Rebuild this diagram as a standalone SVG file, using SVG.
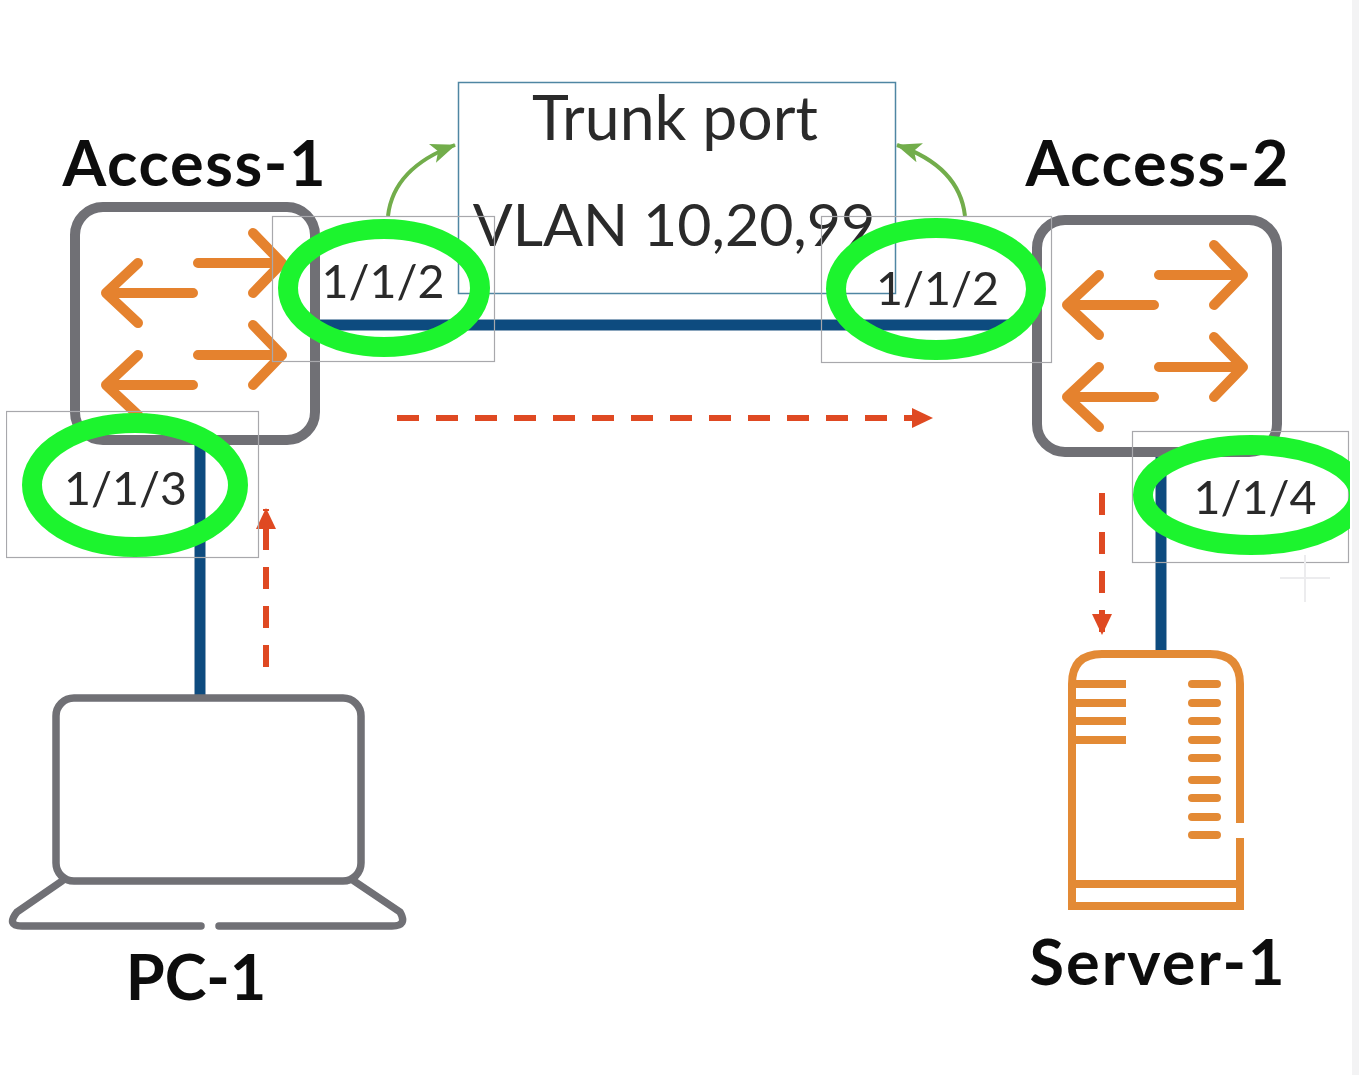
<svg xmlns="http://www.w3.org/2000/svg" width="1359" height="1075" viewBox="0 0 1359 1075">
<defs>
<style>
text{font-family:"Lato","Open Sans","Liberation Sans",sans-serif;text-anchor:middle}
.name{font-size:63px;font-weight:700;fill:#0a0a0a}
.trunk{fill:#2b2b2b}
.port{font-size:46.500px;fill:#2b2b2b}
.sw{fill:none;stroke:#6f6f75;stroke-width:10}
.or{fill:none;stroke:#e5822e;stroke-width:10;stroke-linecap:round;stroke-linejoin:round}
.thin{fill:none;stroke:#a8a8ac;stroke-width:1.2}
.link{fill:none;stroke:#0f4c7f;stroke-width:11}
.ring{fill:none;stroke:#1ff42f;stroke-width:20}
.dash{fill:none;stroke:#df4a20;stroke-width:6;stroke-dasharray:22 17}
.grn{fill:none;stroke:#72ad4c;stroke-width:4}
.srv{fill:none;stroke:#e38a36;stroke-width:8}
.lap{fill:none;stroke:#6f6f75;stroke-width:7.500;stroke-linecap:round;stroke-linejoin:round}
</style>
<filter id="soft" x="0" y="0" width="100%" height="100%"><feGaussianBlur stdDeviation="0.7"/></filter>
<clipPath id="edge"><rect width="1350" height="1075"/></clipPath>
<marker id="mr" markerUnits="userSpaceOnUse" markerWidth="22" markerHeight="24" refX="20" refY="12" orient="auto"><path d="M0 2L21 12L0 22Z" fill="#df4a20"/></marker>
<marker id="mg" markerUnits="userSpaceOnUse" markerWidth="26" markerHeight="24" refX="24" refY="12" orient="auto"><path d="M0 2L25 12L0 22L6 12Z" fill="#72ad4c"/></marker>
<g id="swArrows">
<path class="or" d="M193 0H108M138 -30L106 0L138 30"/>
<path class="or" d="M198 -30H280M253 -60L282 -30L253 0"/>
</g>
</defs>
<rect width="1359" height="1075" fill="#ffffff"/>
<rect x="1352" width="7" height="1075" fill="#f3f3f4"/>
<g filter="url(#soft)">
<g id="connectors">
<path class="link" d="M320 325H1022"/>
<path class="link" d="M200 442V697"/>
<path class="link" d="M1161 455V652"/>
<path class="dash" d="M397 418H932" marker-end="url(#mr)"/>
<path class="dash" d="M266 667V509" marker-end="url(#mr)"/>
<path class="dash" d="M1102 493V634" marker-end="url(#mr)"/>
<path class="grn" d="M388 216C392 180 420 158 455 145" marker-end="url(#mg)"/>
<path class="grn" d="M965 216C961 180 935 158 897 145" marker-end="url(#mg)"/>
</g>
<g id="trunk-port">
<rect x="458.500" y="82.500" width="437" height="211" fill="none" stroke="#4f86a3" stroke-width="1.500"/>
<text class="trunk" font-size="62.500" x="675" y="140">Trunk port</text>
<text class="trunk" font-size="59" x="674" y="246">VLAN 10,20,99</text>
</g>
<g id="access-1">
<text class="name" x="194" y="186" textLength="263" lengthAdjust="spacing">Access-1</text>
<rect class="sw" x="75" y="207" width="240" height="233" rx="28"/>
<use href="#swArrows" y="293"/>
<use href="#swArrows" y="385"/>
</g>
<g id="access-2">
<text class="name" x="1157" y="186" textLength="263" lengthAdjust="spacing">Access-2</text>
<rect class="sw" x="1037" y="220" width="240" height="232" rx="28"/>
<use href="#swArrows" x="961" y="305"/>
<use href="#swArrows" x="961" y="397"/>
</g>
<g id="pc-1">
<rect class="lap" x="56" y="698" width="305" height="183" rx="18"/>
<path class="lap" d="M62 881L17 912Q6 926 22 926H201M219 926H392Q408 926 400 912L354 881"/>
<text class="name" x="196" y="1000">PC-1</text>
</g>
<g id="server-1">
<path class="srv" d="M1240 823V684Q1240 654 1210 654H1102Q1072 654 1072 684V906H1240V838"/>
<path class="srv" d="M1072 884H1240M1072 684H1126M1072 703H1126M1072 721H1126M1072 740H1126"/>
<path class="srv" stroke-linecap="round" d="M1192 684H1217M1192 703H1217M1192 721H1217M1192 740H1217M1192 758H1217M1192 780H1217M1192 798H1217M1192 817H1217M1192 835H1217"/>
<text class="name" x="1157" y="985" textLength="255" lengthAdjust="spacing">Server-1</text>
</g>
<g id="port-a1-2">
<rect class="thin" x="272.500" y="216.500" width="222" height="145"/>
<ellipse class="ring" cx="384" cy="288" rx="96" ry="59"/>
<text class="port" x="383" y="298">1/1/2</text>
</g>
<g id="port-a1-3">
<rect class="thin" x="6.500" y="411.500" width="252" height="146"/>
<ellipse class="ring" cx="135" cy="485" rx="103" ry="62"/>
<text class="port" x="125.500" y="505">1/1/3</text>
</g>
<g id="port-a2-2">
<rect class="thin" x="821.500" y="216.500" width="230" height="146"/>
<ellipse class="ring" cx="936" cy="289" rx="100" ry="61"/>
<text class="port" x="937.500" y="305">1/1/2</text>
</g>
<g id="port-a2-4">
<rect class="thin" x="1132.500" y="431.500" width="216" height="131"/>
<ellipse class="ring" cx="1251" cy="495" rx="108" ry="50" clip-path="url(#edge)"/>
<text class="port" x="1255" y="514">1/1/4</text>
</g>
<path d="M1280 578H1330M1305 555V602" fill="none" stroke="#ececee" stroke-width="2"/>
</g>
</svg>
